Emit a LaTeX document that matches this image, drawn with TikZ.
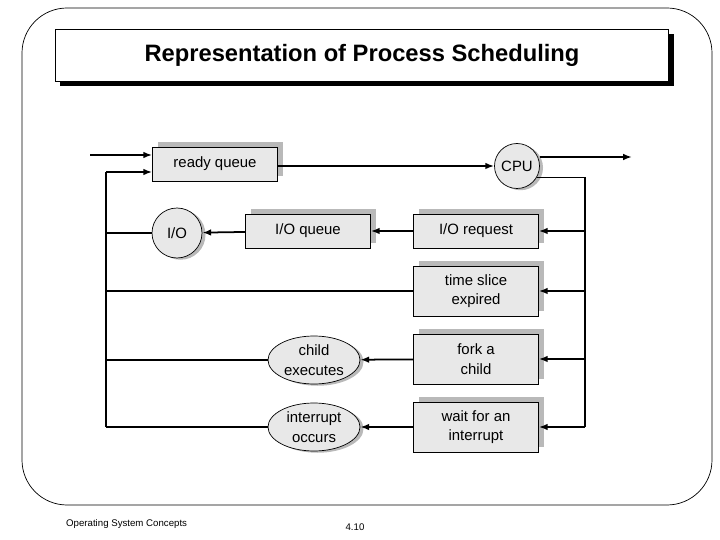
\documentclass[tikz,border=0pt]{standalone}
\usepackage{fontspec}
\setmainfont{Liberation Sans}
\usetikzlibrary{positioning, arrows.meta, shadows, calc, shapes.geometric}

\begin{document}
\begin{tikzpicture}[x=0.02cm, y=0.02cm,
    qbox/.style={draw, fill=gray!18, minimum width=2.5cm, minimum height=0.68cm,
        align=center, font=\fontsize{8.5}{11}\selectfont,
        copy shadow={shadow xshift=3pt, shadow yshift=3pt, fill=gray!55, draw=none}},
    tallbox/.style={qbox, minimum height=1cm},
    proc/.style={draw, circle, fill=gray!18, minimum size=0.9cm, inner sep=0pt,
        font=\fontsize{8.5}{11}\selectfont,
        copy shadow={shadow xshift=2pt, shadow yshift=-1pt, fill=gray!55, draw=none}},
    evt/.style={draw, ellipse, fill=gray!18, minimum width=1.84cm, minimum height=0.96cm,
        inner sep=0pt, align=center, font=\fontsize{8.5}{11}\selectfont,
        copy shadow={shadow xshift=2pt, shadow yshift=-1pt, fill=gray!55, draw=none}},
    flow/.style={-{Latex[length=5pt]}, line width=1pt},
    wire/.style={line width=1pt}]
    \useasboundingbox (0,0) rectangle (720,-540);

    % frame and title
    \draw[rounded corners=0.9cm] (22,-8) rectangle (712,-505);
    \fill (60,-34) rectangle (674,-86);
    \node[draw, fill=white, minimum width=12.26cm, minimum height=1.04cm,
        font=\bfseries\fontsize{13.5}{16}\selectfont] (title) at (362,-55)
        {Representation of Process Scheduling};

    % queues and servers
    \node[qbox] (ready) at (215,-164) {ready queue};
    \node[proc] (cpu) at (517,-166) {CPU};
    \node[qbox] (ioq) at (308,-231) {I/O queue};
    \node[proc, minimum size=1cm] (io) at (177,-233) {I/O};
    \node[qbox] (ioreq) at (476,-231) {I/O request};
    \node[tallbox] (slice) at (476,-291) {time slice\\expired};
    \node[tallbox] (fork) at (476,-359) {fork a\\child};
    \node[tallbox] (wait) at (476,-427) {wait for an\\interrupt};
    \node[evt] (child) at (314,-360) {child\\executes};
    \node[evt] (intr) at (314,-427) {interrupt\\occurs};

    \coordinate (in) at (90,-155);
    \coordinate (out) at (632,-157);
    \coordinate (rtop) at (585,-178);
    \coordinate (ltop) at (106,-172);

    % main path
    \draw[flow] (in) -- (in -| ready.west);
    \draw[flow] (ready.east |- cpu) -- (cpu.west);
    \draw[flow] (cpu.east |- out) -- (out);

    % right return line
    \draw[wire] (cpu.-30) -- (cpu.-30 -| rtop) -- (rtop |- wait);
    \draw[flow] (rtop |- ioreq) -- (ioreq.east);
    \draw[flow] (rtop |- slice) -- (slice.east);
    \draw[flow] (rtop |- fork) -- (fork.east);
    \draw[flow] (rtop |- wait) -- (wait.east);

    \draw[flow] (ioreq) -- (ioq);
    \draw[flow] (ioq) -- (io);
    \draw[flow] (fork) -- (child);
    \draw[flow] (wait) -- (intr);

    % left return line
    \draw[wire] (ltop |- intr) -- (ltop);
    \draw[flow] (ltop) -- (ltop -| ready.west);
    \draw[wire] (io.west) -- (io.west -| ltop);
    \draw[wire] (slice.west) -- (slice.west -| ltop);
    \draw[wire] (child.west) -- (child.west -| ltop);
    \draw[wire] (intr.west) -- (intr.west -| ltop);

    % footer
    \node[font=\fontsize{5.5}{7}\selectfont, anchor=west] (book) at (60,-524) {Operating System Concepts};
    \node[font=\fontsize{5.5}{7}\selectfont] (page) at (355,-527) {4.10};
\end{tikzpicture}
\end{document}
